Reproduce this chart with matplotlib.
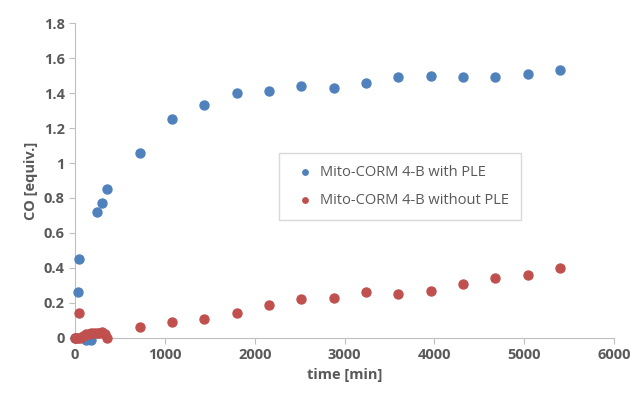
import matplotlib.pyplot as plt

# data
t_with = [0, 30, 45, 120, 180, 240, 300, 360, 720, 1080, 1440, 1800, 2160,
          2520, 2880, 3240, 3600, 3960, 4320, 4680, 5040, 5400]
co_with = [0.0, 0.26, 0.45, -0.01, -0.01, 0.72, 0.77, 0.85, 1.06, 1.25, 1.33,
           1.40, 1.41, 1.44, 1.43, 1.46, 1.49, 1.50, 1.49, 1.49, 1.51, 1.53]

t_without = [0, 15, 30, 45, 60, 90, 120, 150, 180, 210, 240, 270, 300, 330,
             360, 720, 1080, 1440, 1800, 2160, 2520, 2880, 3240, 3600, 3960,
             4320, 4680, 5040, 5400]
co_without = [0.0, 0.0, 0.0, 0.14, 0.0, 0.01, 0.02, 0.025, 0.03, 0.03, 0.03,
              0.03, 0.035, 0.02, 0.0, 0.06, 0.09, 0.11, 0.14, 0.19, 0.22,
              0.23, 0.26, 0.25, 0.27, 0.31, 0.34, 0.36, 0.40]

plt.rcParams['font.family'] = ['Open Sans', 'DejaVu Sans']
grey = '#595959'

fig = plt.figure(figsize=(6.31, 3.98), dpi=100)
ax = fig.add_axes([0.119, 0.151, 0.854, 0.791])

ax.scatter(t_with, co_with, s=42, color='#4F81BD', zorder=3,
           label='Mito-CORM 4-B with PLE')
ax.scatter(t_without, co_without, s=42, color='#C0504D', zorder=4,
           label='Mito-CORM 4-B without PLE')

ax.set_xlim(0, 6000)
ax.set_ylim(0, 1.8)
ax.set_xticks(range(0, 6001, 1000))
ax.set_yticks([0, 0.2, 0.4, 0.6, 0.8, 1, 1.2, 1.4, 1.6, 1.8])
ax.set_yticklabels(['0', '0.2', '0.4', '0.6', '0.8', '1', '1.2', '1.4', '1.6', '1.8'])

for s in ['top', 'right']:
    ax.spines[s].set_visible(False)
for s in ['left', 'bottom']:
    ax.spines[s].set_color('#BFBFBF')
ax.tick_params(colors='#BFBFBF', labelcolor=grey, labelsize=10.5, length=4)
for lab in ax.get_xticklabels() + ax.get_yticklabels():
    lab.set_fontweight('bold')

ax.set_xlabel('time [min]', fontsize=10.5, fontweight='bold', color=grey)
ax.set_ylabel('CO [equiv.]', fontsize=10.5, fontweight='bold', color=grey)

leg = ax.legend(loc='upper left', bbox_to_anchor=(0.365, 0.61), fontsize=10.5,
                handletextpad=0.0, markerscale=0.6, borderpad=0.8,
                labelspacing=0.9, fancybox=False, framealpha=1)
leg.get_frame().set_edgecolor('#D9D9D9')
for txt in leg.get_texts():
    txt.set_color(grey)

for sp in ax.spines.values():
    sp.set_clip_on(False)
for c in ax.collections:
    c.set_clip_on(False)

plt.savefig('out.png', dpi=100)
